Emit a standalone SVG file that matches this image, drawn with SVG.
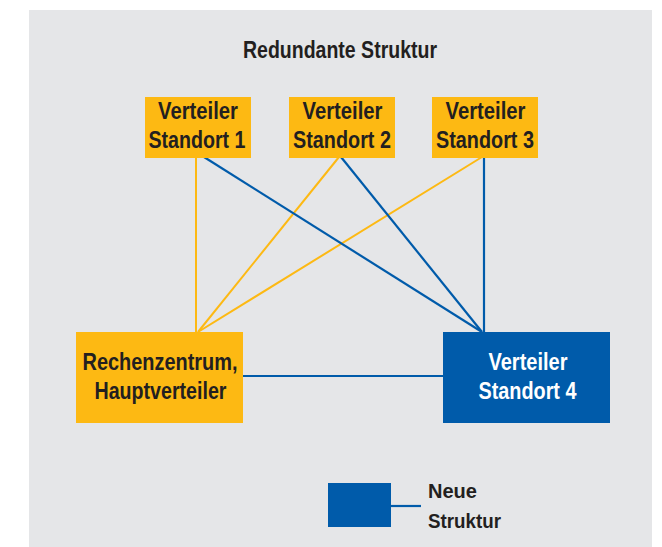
<svg xmlns="http://www.w3.org/2000/svg" width="662" height="547" viewBox="0 0 662 547">
<style>
.bg{fill:#e5e6e8}
.y{fill:#fdb913}
.b{fill:#005baa}
.t{font-family:"Liberation Sans",Arial,sans-serif;font-weight:bold;font-size:23.5px;fill:#231f20;text-anchor:middle}
.w{fill:#ffffff}
.ly{stroke:#fdb913;stroke-width:2;fill:none}
.lb{stroke:#005baa;stroke-width:2.2;fill:none}
</style>
<rect class="bg" x="29" y="10" width="623" height="537"/>
<text class="t" x="340" y="58" textLength="194" lengthAdjust="spacingAndGlyphs">Redundante Struktur</text>
<g id="connectors">
<line class="ly" x1="196" y1="157" x2="196" y2="332"/>
<line class="ly" x1="339" y1="157" x2="198" y2="332"/>
<line class="ly" x1="482" y1="157" x2="198" y2="332"/>
<line class="lb" x1="204" y1="157" x2="482" y2="332"/>
<line class="lb" x1="341" y1="157" x2="482" y2="332"/>
<line class="lb" x1="484" y1="157" x2="484" y2="332"/>
<line class="lb" x1="243" y1="376" x2="443" y2="376"/>
</g>
<g id="standort1">
<rect class="y" x="145" y="97" width="106" height="61"/>
<text class="t" x="198" y="119" textLength="80" lengthAdjust="spacingAndGlyphs">Verteiler</text>
<text class="t" x="197" y="148" textLength="97" lengthAdjust="spacingAndGlyphs">Standort 1</text>
</g>
<g id="standort2">
<rect class="y" x="289" y="97" width="106" height="61"/>
<text class="t" x="342.5" y="119" textLength="80" lengthAdjust="spacingAndGlyphs">Verteiler</text>
<text class="t" x="342" y="148" textLength="98" lengthAdjust="spacingAndGlyphs">Standort 2</text>
</g>
<g id="standort3">
<rect class="y" x="432" y="97" width="106" height="61"/>
<text class="t" x="485.5" y="119" textLength="80" lengthAdjust="spacingAndGlyphs">Verteiler</text>
<text class="t" x="485" y="148" textLength="98" lengthAdjust="spacingAndGlyphs">Standort 3</text>
</g>
<g id="rechenzentrum">
<rect class="y" x="76" y="332" width="167" height="91"/>
<text class="t" x="160" y="370" textLength="155" lengthAdjust="spacingAndGlyphs">Rechenzentrum,</text>
<text class="t" x="160.5" y="399" textLength="132" lengthAdjust="spacingAndGlyphs">Hauptverteiler</text>
</g>
<g id="standort4">
<rect class="b" x="443" y="332" width="167" height="91"/>
<text class="t w" x="528" y="370" textLength="79" lengthAdjust="spacingAndGlyphs">Verteiler</text>
<text class="t w" x="527.5" y="399" textLength="98" lengthAdjust="spacingAndGlyphs">Standort 4</text>
</g>
<g id="legend">
<rect class="b" x="328" y="483" width="63" height="44"/>
<line class="lb" x1="391" y1="506" x2="421" y2="506"/>
<text class="t" x="428" y="498" style="text-anchor:start;font-size:21px" textLength="49" lengthAdjust="spacingAndGlyphs">Neue</text>
<text class="t" x="428" y="528" style="text-anchor:start;font-size:21px" textLength="73" lengthAdjust="spacingAndGlyphs">Struktur</text>
</g>
</svg>
